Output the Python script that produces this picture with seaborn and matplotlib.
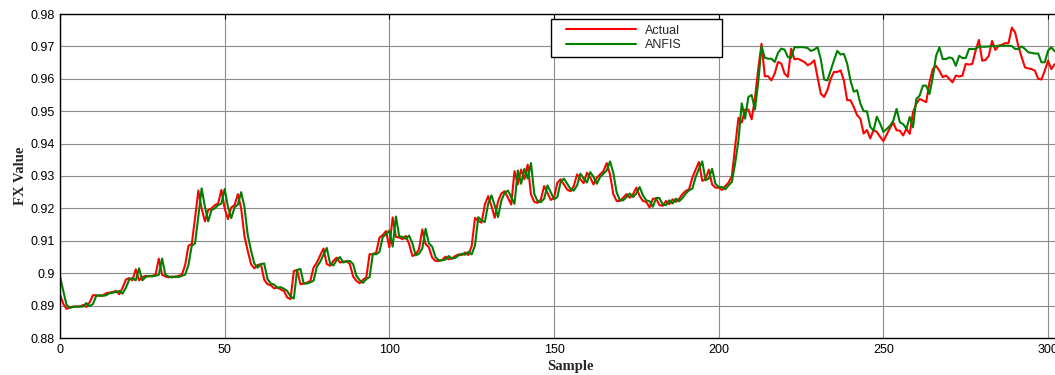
import pandas as pd
import seaborn as sns
import matplotlib.pyplot as plt
from matplotlib.lines import Line2D
from matplotlib.legend_handler import HandlerLine2D
from matplotlib.ticker import FormatStrFormatter

# values, one per sample (0..302)
actual = [
    0.8935, 0.8905, 0.8890, 0.8895, 0.8897, 0.8897, 0.8897, 0.8902, 0.8896, 0.8910,
    0.8932, 0.8932, 0.8930, 0.8932, 0.8938, 0.8940, 0.8942, 0.8945, 0.8935, 0.8955,
    0.8980, 0.8985, 0.8978, 0.9012, 0.8978, 0.8988, 0.8992, 0.8990, 0.8992, 0.8995,
    0.9045, 0.8995, 0.8990, 0.8987, 0.8990, 0.8988, 0.8992, 0.8995, 0.9025, 0.9085,
    0.9090, 0.9170, 0.9255, 0.9200, 0.9160, 0.9195, 0.9200, 0.9210, 0.9215, 0.9257,
    0.9200, 0.9167, 0.9203, 0.9210, 0.9244, 0.9200, 0.9115, 0.9069, 0.9028, 0.9015,
    0.9025, 0.9028, 0.8980, 0.8966, 0.8963, 0.8953, 0.8956, 0.8950, 0.8945, 0.8925,
    0.8920, 0.9007, 0.9010, 0.8966, 0.8968, 0.8971, 0.8976, 0.9018, 0.9033, 0.9055,
    0.9076, 0.9028, 0.9023, 0.9038, 0.9048, 0.9033, 0.9035, 0.9038, 0.9028, 0.8990,
    0.8976, 0.8969, 0.8980, 0.8987, 0.9059, 0.9058, 0.9064, 0.9110, 0.9118, 0.9130,
    0.9080, 0.9172, 0.9112, 0.9110, 0.9105, 0.9115, 0.9090, 0.9053, 0.9058, 0.9074,
    0.9135, 0.9090, 0.9080, 0.9048, 0.9038, 0.9038, 0.9040, 0.9051, 0.9043, 0.9046,
    0.9053, 0.9058, 0.9056, 0.9064, 0.9056, 0.9084, 0.9171, 0.9161, 0.9156, 0.9212,
    0.9238, 0.9207, 0.9171, 0.9222, 0.9246, 0.9253, 0.9233, 0.9212, 0.9315, 0.9274,
    0.9320, 0.9290, 0.9335, 0.9243, 0.9220, 0.9217, 0.9228, 0.9269, 0.9248, 0.9226,
    0.9233, 0.9279, 0.9290, 0.9274, 0.9258, 0.9253, 0.9269, 0.9305, 0.9290, 0.9278,
    0.9310, 0.9295, 0.9274, 0.9295, 0.9305, 0.9315, 0.9340, 0.9305, 0.9244, 0.9223,
    0.9223, 0.9233, 0.9244, 0.9233, 0.9244, 0.9264, 0.9238, 0.9223, 0.9220, 0.9203,
    0.9230, 0.9230, 0.9210, 0.9208, 0.9223, 0.9213, 0.9228, 0.9220, 0.9230, 0.9244,
    0.9254, 0.9259, 0.9295, 0.9320, 0.9343, 0.9285, 0.9290, 0.9320, 0.9274, 0.9264,
    0.9264, 0.9257, 0.9269, 0.9280, 0.9300, 0.9392, 0.9480, 0.9465, 0.9505, 0.9505,
    0.9475, 0.9540, 0.9630, 0.9708, 0.9608, 0.9608, 0.9595, 0.9616, 0.9652, 0.9647,
    0.9616, 0.9606, 0.9693, 0.9660, 0.9662, 0.9657, 0.9652, 0.9642, 0.9647, 0.9657,
    0.9606, 0.9554, 0.9544, 0.9565, 0.9600, 0.9621, 0.9621, 0.9626, 0.9595, 0.9534,
    0.9534, 0.9513, 0.9488, 0.9477, 0.9431, 0.9442, 0.9416, 0.9442, 0.9436, 0.9421,
    0.9408, 0.9428, 0.9448, 0.9465, 0.9441, 0.9440, 0.9425, 0.9446, 0.9430, 0.9497,
    0.9523, 0.9538, 0.9533, 0.9528, 0.9590, 0.9630, 0.9640, 0.9625, 0.9605, 0.9610,
    0.9600, 0.9589, 0.9610, 0.9607, 0.9610, 0.9646, 0.9644, 0.9646, 0.9687, 0.9720,
    0.9656, 0.9658, 0.9671, 0.9717, 0.9689, 0.9702, 0.9705, 0.9710, 0.9710, 0.9758,
    0.9743, 0.9700, 0.9666, 0.9635, 0.9632, 0.9630, 0.9625, 0.9600, 0.9598, 0.9625,
    0.9656, 0.9630, 0.9645,
]

anfis = [
    0.8990, 0.8945, 0.8902, 0.8893, 0.8896, 0.8897, 0.8897, 0.8897, 0.8908, 0.8898,
    0.8905, 0.8930, 0.8932, 0.8930, 0.8932, 0.8938, 0.8940, 0.8942, 0.8945, 0.8937,
    0.8955, 0.8980, 0.8985, 0.8978, 0.9015, 0.8978, 0.8988, 0.8992, 0.8990, 0.8992,
    0.8995, 0.9045, 0.8995, 0.8990, 0.8987, 0.8990, 0.8988, 0.8992, 0.8995, 0.9025,
    0.9085, 0.9092, 0.9175, 0.9262, 0.9205, 0.9160, 0.9195, 0.9200, 0.9210, 0.9215,
    0.9260, 0.9205, 0.9170, 0.9203, 0.9212, 0.9250, 0.9205, 0.9118, 0.9070, 0.9030,
    0.9017, 0.9028, 0.9030, 0.8982, 0.8968, 0.8965, 0.8955, 0.8957, 0.8952, 0.8945,
    0.8928, 0.8922, 0.9010, 0.9013, 0.8968, 0.8968, 0.8972, 0.8977, 0.9020, 0.9035,
    0.9057, 0.9078, 0.9030, 0.9024, 0.9040, 0.9050, 0.9033, 0.9036, 0.9038, 0.9028,
    0.8992, 0.8978, 0.8970, 0.8982, 0.8988, 0.9060, 0.9058, 0.9066, 0.9112, 0.9120,
    0.9132, 0.9082, 0.9175, 0.9114, 0.9112, 0.9106, 0.9116, 0.9092, 0.9055, 0.9060,
    0.9076, 0.9137, 0.9092, 0.9082, 0.9050, 0.9040, 0.9040, 0.9042, 0.9053, 0.9045,
    0.9047, 0.9055, 0.9060, 0.9057, 0.9066, 0.9058, 0.9086, 0.9173, 0.9163, 0.9158,
    0.9214, 0.9240, 0.9209, 0.9173, 0.9224, 0.9248, 0.9255, 0.9235, 0.9214, 0.9317,
    0.9276, 0.9322, 0.9292, 0.9340, 0.9245, 0.9222, 0.9219, 0.9230, 0.9271, 0.9250,
    0.9228, 0.9235, 0.9281, 0.9292, 0.9276, 0.9260, 0.9255, 0.9271, 0.9307, 0.9292,
    0.9280, 0.9312, 0.9297, 0.9276, 0.9297, 0.9307, 0.9317, 0.9345, 0.9310, 0.9250,
    0.9225, 0.9225, 0.9235, 0.9246, 0.9235, 0.9246, 0.9266, 0.9240, 0.9225, 0.9222,
    0.9205, 0.9232, 0.9232, 0.9212, 0.9210, 0.9225, 0.9215, 0.9230, 0.9222, 0.9232,
    0.9246, 0.9256, 0.9261, 0.9297, 0.9322, 0.9345, 0.9287, 0.9292, 0.9322, 0.9276,
    0.9266, 0.9266, 0.9259, 0.9271, 0.9282, 0.9340, 0.9410, 0.9524, 0.9477, 0.9544,
    0.9550, 0.9505, 0.9590, 0.9700, 0.9665, 0.9662, 0.9662, 0.9652, 0.9680, 0.9693,
    0.9690, 0.9667, 0.9665, 0.9698, 0.9697, 0.9698, 0.9697, 0.9695, 0.9686, 0.9690,
    0.9698, 0.9660, 0.9598, 0.9595, 0.9626, 0.9657, 0.9686, 0.9675, 0.9677, 0.9647,
    0.9595, 0.9560, 0.9565, 0.9524, 0.9500, 0.9500, 0.9452, 0.9440, 0.9483, 0.9462,
    0.9436, 0.9445, 0.9455, 0.9470, 0.9507, 0.9466, 0.9460, 0.9446, 0.9482, 0.9450,
    0.9538, 0.9548, 0.9579, 0.9579, 0.9553, 0.9605, 0.9671, 0.9697, 0.9661, 0.9661,
    0.9666, 0.9663, 0.9640, 0.9671, 0.9664, 0.9664, 0.9692, 0.9692, 0.9692, 0.9700,
    0.9699, 0.9699, 0.9700, 0.9701, 0.9700, 0.9702, 0.9702, 0.9702, 0.9702, 0.9701,
    0.9692, 0.9692, 0.9700, 0.9692, 0.9682, 0.9680, 0.9678, 0.9678, 0.9651, 0.9651,
    0.9687, 0.9697, 0.9685,
]

samples = list(range(len(actual)))
series_names = ["Actual", "ANFIS"]
x_ticks = [0, 50, 100, 150, 200, 250, 300]
y_ticks = [0.88, 0.89, 0.90, 0.91, 0.92, 0.93, 0.94, 0.95, 0.96, 0.97, 0.98]

df = pd.DataFrame({
    "Sample": samples * 2,
    "FX Value": actual + anfis,
    "Series": [series_names[0]] * len(actual) + [series_names[1]] * len(anfis),
})

sns.set_style("white")
plt.rcParams["font.family"] = ["Liberation Sans", "DejaVu Sans"]

fig = plt.figure(figsize=(10.55, 3.75), dpi=100)
# axes run past the right edge of the figure, like the cropped original
ax = fig.add_axes([60 / 1055, 37 / 375, 1021 / 1055, 324 / 375])

sns.lineplot(data=df, x="Sample", y="FX Value", hue="Series",
             palette={"Actual": "#ff0000", "ANFIS": "#008000"},
             linewidth=1.5, ax=ax, sort=False, estimator=None)

ax.set_xlim(0, 310)
ax.set_ylim(0.88, 0.98)
ax.set_xticks(x_ticks)
ax.set_yticks(y_ticks)
ax.yaxis.set_major_formatter(FormatStrFormatter("%g"))
ax.grid(True, color="0.55", linewidth=0.8, linestyle="-")
ax.set_axisbelow(True)
ax.tick_params(direction="in", top=True, right=True, length=3.5,
               labelsize=9, colors="black", pad=4)
for sp in ax.spines.values():
    sp.set_color("black")
    sp.set_linewidth(1.0)

ax.set_xlabel("Sample", fontsize=10.5, fontweight="bold",
              family=["Liberation Serif", "DejaVu Serif"], labelpad=3)
ax.set_ylabel("FX Value", fontsize=10.5, fontweight="bold",
              family=["Liberation Serif", "DejaVu Serif"], labelpad=2)

handles, labels = ax.get_legend_handles_labels()
ax.get_legend().remove()
leg = ax.legend(handles, labels, loc="upper left",
                bbox_to_anchor=(551 / 1055, 1 - 19 / 375, 171 / 1055, 0.0),
                bbox_transform=fig.transFigure, mode="expand",
                handler_map={Line2D: HandlerLine2D(xpad=0.72)},
                fontsize=9, frameon=True, fancybox=False, framealpha=1,
                edgecolor="black", handlelength=6.35, handletextpad=0.72,
                labelspacing=0.2, borderpad=0.45, borderaxespad=0)
leg.get_frame().set_linewidth(1.0)

fig.savefig("out.png", dpi=100)
